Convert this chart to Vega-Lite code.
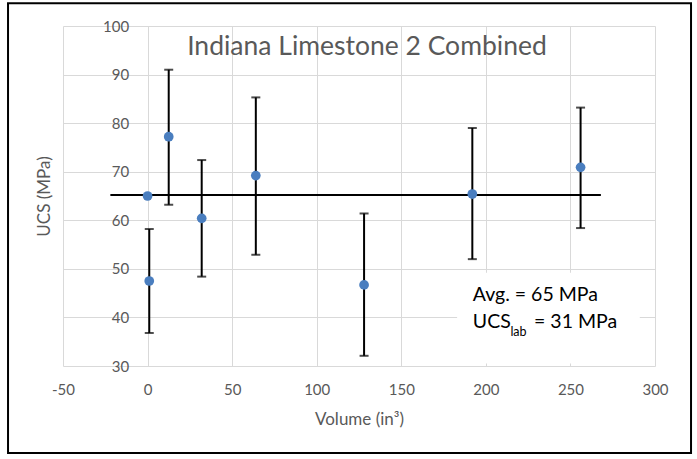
{
  "$schema": "https://vega.github.io/schema/vega-lite/v6.json",
  "width": 592,
  "height": 340,
  "autosize": {"type": "none"},
  "padding": {"left": 63, "top": 26, "right": 42, "bottom": 93},
  "background": "white",
  "config": {
    "view": {"stroke": null},
    "font": "Lato",
    "axis": {"grid": true, "gridColor": "#d9d9d9", "gridWidth": 1, "domain": false, "ticks": false, "labelFlush": false, "labelFontSize": 15, "labelColor": "#595959", "titleFontSize": 17, "titleFontWeight": "normal", "titleColor": "#595959", "labelExpr": "replace(datum.label, '\u2212', '-')"}
  },
  "datasets": {
    "frame": [{"x1": -82.5, "x2": 321.3, "y1": 104.7, "y2": 12.1}],
    "box": [{"x1": 183, "x2": 291, "y1": 30.5, "y2": 49.2}],
    "avg": [{"x1": -22, "x2": 268, "y": 65.2}],
    "pts": [
      {"vol": 0, "ucs": 65.0},
      {"vol": 1, "ucs": 47.5},
      {"vol": 12.5, "ucs": 77.2},
      {"vol": 32, "ucs": 60.4},
      {"vol": 64, "ucs": 69.2},
      {"vol": 128, "ucs": 46.7},
      {"vol": 192, "ucs": 65.4},
      {"vol": 256, "ucs": 70.9}
    ],
    "err": [
      {"vol": 1, "lo": 36.8, "hi": 58.2},
      {"vol": 12.5, "lo": 63.2, "hi": 91.0},
      {"vol": 32, "lo": 48.4, "hi": 72.4},
      {"vol": 64, "lo": 52.9, "hi": 85.3},
      {"vol": 128, "lo": 32.1, "hi": 61.4},
      {"vol": 192, "lo": 52.0, "hi": 79.0},
      {"vol": 256, "lo": 58.4, "hi": 83.2}
    ],
    "title": [{"x": 129.7, "y": 94.0, "text": "Indiana Limestone 2 Combined"}],
    "note": [
      {"x": 192.3, "y": 43.4, "text": "Avg. = 65 MPa"},
      {"x": 192.3, "y": 37.8, "text": "UCS"},
      {"x": 228.5, "y": 37.8, "text": "= 31 MPa"}
    ],
    "sub": [{"x": 214.5, "y": 36.1, "text": "lab"}]
  },
  "layer": [
    {
      "data": {"name": "pts"},
      "mark": {"type": "point", "filled": true, "color": "#4a7ebf", "opacity": 0},
      "encoding": {
        "x": {
          "field": "vol", "type": "quantitative",
          "scale": {"domain": [-50, 300], "nice": false, "zero": false},
          "axis": {
            "title": "Volume (in³)",
            "values": [-50, 0, 50, 100, 150, 200, 250, 300],
            "labelPadding": 16,
            "titlePadding": 14
          }
        },
        "y": {
          "field": "ucs", "type": "quantitative",
          "scale": {"domain": [30, 100], "nice": false, "zero": false},
          "axis": {
            "title": "UCS (MPa)",
            "values": [30, 40, 50, 60, 70, 80, 90, 100],
            "offset": -84.6,
            "labelPadding": 19,
            "titleX": -103, "titleBaseline": "middle"
          }
        }
      }
    },
    {
      "data": {"name": "frame"},
      "mark": {"type": "rect", "fill": null, "stroke": "black", "strokeWidth": 2, "clip": false},
      "encoding": {
        "x": {"field": "x1", "type": "quantitative", "title": "Volume (in³)"},
        "x2": {"field": "x2"},
        "y": {"field": "y1", "type": "quantitative", "title": "UCS (MPa)"},
        "y2": {"field": "y2"}
      }
    },
    {
      "data": {"name": "box"},
      "mark": {"type": "rect", "fill": "white", "stroke": null},
      "encoding": {
        "x": {"field": "x1", "type": "quantitative", "title": "Volume (in³)"},
        "x2": {"field": "x2"},
        "y": {"field": "y1", "type": "quantitative", "title": "UCS (MPa)"},
        "y2": {"field": "y2"}
      }
    },
    {
      "data": {"name": "avg"},
      "mark": {"type": "rule", "color": "black", "strokeWidth": 2},
      "encoding": {
        "x": {"field": "x1", "type": "quantitative", "title": "Volume (in³)"},
        "x2": {"field": "x2"},
        "y": {"field": "y", "type": "quantitative", "title": "UCS (MPa)"}
      }
    },
    {
      "data": {"name": "err"},
      "mark": {"type": "rule", "color": "black", "strokeWidth": 2},
      "encoding": {
        "x": {"field": "vol", "type": "quantitative", "title": "Volume (in³)"},
        "y": {"field": "lo", "type": "quantitative", "title": "UCS (MPa)"},
        "y2": {"field": "hi"}
      }
    },
    {
      "data": {"name": "err"},
      "mark": {"type": "tick", "color": "black", "orient": "horizontal", "size": 9, "thickness": 2},
      "encoding": {
        "x": {"field": "vol", "type": "quantitative", "title": "Volume (in³)"},
        "y": {"field": "lo", "type": "quantitative", "title": "UCS (MPa)"}
      }
    },
    {
      "data": {"name": "err"},
      "mark": {"type": "tick", "color": "black", "orient": "horizontal", "size": 9, "thickness": 2},
      "encoding": {
        "x": {"field": "vol", "type": "quantitative", "title": "Volume (in³)"},
        "y": {"field": "hi", "type": "quantitative", "title": "UCS (MPa)"}
      }
    },
    {
      "data": {"name": "pts"},
      "mark": {"type": "circle", "color": "#4a7ebf", "opacity": 1, "size": 95},
      "encoding": {
        "x": {"field": "vol", "type": "quantitative", "title": "Volume (in³)"},
        "y": {"field": "ucs", "type": "quantitative", "title": "UCS (MPa)"}
      }
    },
    {
      "data": {"name": "title"},
      "mark": {"type": "text", "fontSize": 26.5, "color": "#595959", "align": "center", "baseline": "alphabetic"},
      "encoding": {
        "x": {"field": "x", "type": "quantitative", "title": "Volume (in³)"},
        "y": {"field": "y", "type": "quantitative", "title": "UCS (MPa)"},
        "text": {"field": "text"}
      }
    },
    {
      "data": {"name": "note"},
      "mark": {"type": "text", "fontSize": 19.5, "color": "black", "align": "left", "baseline": "alphabetic"},
      "encoding": {
        "x": {"field": "x", "type": "quantitative", "title": "Volume (in³)"},
        "y": {"field": "y", "type": "quantitative", "title": "UCS (MPa)"},
        "text": {"field": "text"}
      }
    },
    {
      "data": {"name": "sub"},
      "mark": {"type": "text", "fontSize": 12.5, "color": "black", "align": "left", "baseline": "alphabetic"},
      "encoding": {
        "x": {"field": "x", "type": "quantitative", "title": "Volume (in³)"},
        "y": {"field": "y", "type": "quantitative", "title": "UCS (MPa)"},
        "text": {"field": "text"}
      }
    }
  ]
}
